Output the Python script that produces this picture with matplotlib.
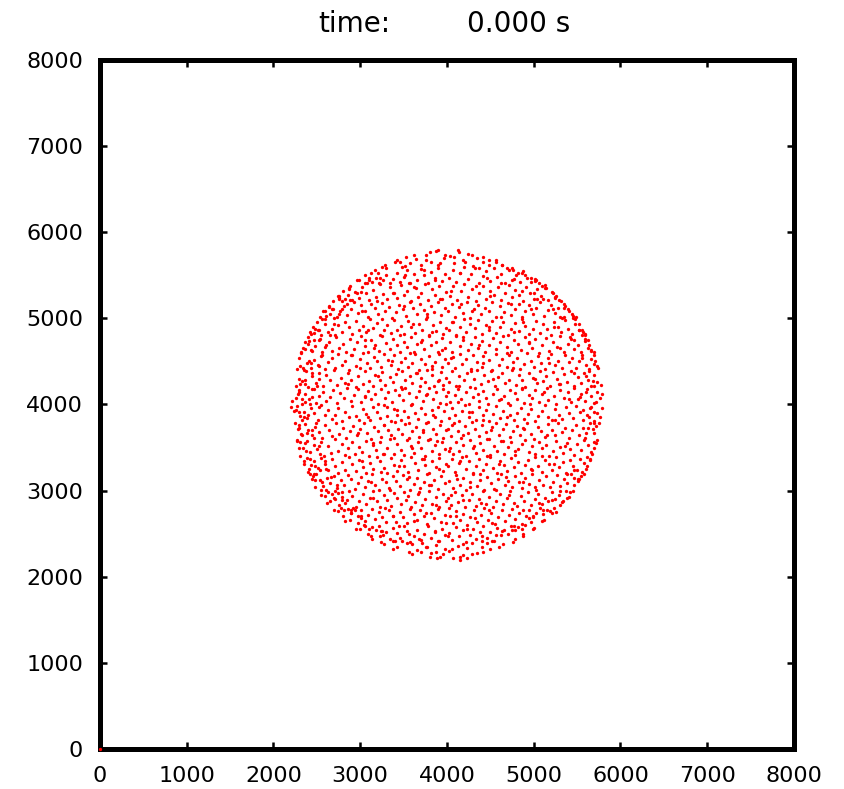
import numpy as np
import matplotlib
matplotlib.use("Agg")
import matplotlib.pyplot as plt

# Particle positions at t = 0, read off the snapshot by quarter of the disc
# (estimated: the dots are too dense to read one by one).
north_east = [
    (4012,4150),(4038,4030),(4095,4110),(4130,4185),(4160,4060),(4225,4140),(4250,4010),(4300,4090),(4318,4195),(4372,4045),
    (4420,4160),(4455,4075),(4470,4005),(4530,4120),(4575,4180),(4598,4050),(4655,4100),(4700,4020),(4722,4170),(4790,4135),
    (4810,4060),(4865,4195),(4890,4015),(4940,4110),(4985,4070),(5020,4165),(5065,4030),(5098,4125),(5150,4190),(5170,4055),
    (5235,4100),(5262,4010),(5300,4170),(5345,4080),(5390,4140),(5425,4025),(5470,4195),(5505,4065),(5540,4120),(5590,4040),
    (5615,4180),(5660,4095),(5700,4015),(5725,4150),(5760,4070),(5785,4120),
    (4025,4260),(4060,4390),(4105,4215),(4140,4330),(4195,4280),(4230,4370),(4262,4205),(4310,4300),(4345,4395),(4388,4240),
    (4430,4340),(4475,4270),(4502,4385),(4550,4220),(4590,4315),(4630,4360),(4668,4250),(4710,4290),(4745,4395),(4795,4225),
    (4830,4345),(4862,4280),(4905,4205),(4950,4370),(4990,4310),(5035,4245),(5070,4390),(5110,4275),(5145,4335),(5190,4210),
    (5225,4380),(5270,4300),(5305,4235),(5350,4350),(5385,4265),(5430,4390),(5460,4215),(5510,4320),(5545,4255),(5580,4370),
    (5625,4290),(5660,4215),(5695,4340),(5730,4260),(5770,4225),
    (4015,4480),(4070,4555),(4090,4420),(4150,4590),(4175,4470),(4220,4530),(4280,4410),(4305,4575),(4350,4495),(4400,4440),
    (4420,4560),(4480,4515),(4515,4405),(4560,4590),(4600,4460),(4640,4525),(4690,4430),(4715,4580),(4760,4490),(4805,4545),
    (4840,4415),(4885,4470),(4925,4595),(4965,4505),(5000,4435),(5050,4560),(5080,4480),(5130,4410),(5160,4535),(5200,4590),
    (5245,4455),(5280,4510),(5325,4420),(5360,4575),(5410,4490),(5440,4545),(5485,4425),(5520,4505),(5560,4580),(5600,4460),
    (5635,4410),(5665,4530),(5700,4470),(5740,4420),
    (4030,4720),(4060,4615),(4110,4790),(4150,4680),(4190,4745),(4240,4630),(4275,4705),(4320,4780),(4355,4650),(4405,4735),
    (4440,4605),(4480,4690),(4530,4770),(4565,4640),(4610,4725),(4650,4795),(4690,4665),(4735,4610),(4770,4750),(4815,4700),
    (4855,4635),(4895,4785),(4940,4710),(4975,4650),(5020,4760),(5060,4600),(5100,4690),(5145,4775),(5180,4625),(5225,4730),
    (5265,4670),(5305,4790),(5350,4610),(5390,4700),(5430,4755),(5470,4640),(5510,4690),(5550,4615),(5590,4740),(5620,4660),
    (5660,4625),(5690,4605),
    (4020,4860),(4065,4955),(4100,4810),(4145,4905),(4195,4995),(4225,4840),(4270,4930),(4320,4885),(4355,4980),(4400,4815),
    (4445,4920),(4490,4860),(4525,4975),(4570,4830),(4615,4900),(4650,4960),(4700,4805),(4740,4875),(4780,4945),(4825,4850),
    (4865,4990),(4905,4910),(4950,4820),(4990,4880),(5030,4970),(5075,4835),(5110,4935),(5155,4875),(5195,4805),(5235,4960),
    (5280,4900),(5320,4840),(5360,4985),(5400,4880),(5440,4820),(5480,4930),(5520,4860),(5555,4810),(5570,4845),(5595,4815),
    (4010,5085),(4055,5170),(4095,5020),(4140,5130),(4185,5060),(4230,5195),(4265,5005),(4310,5110),(4360,5160),(4395,5045),
    (4440,5125),(4485,5080),(4525,5190),(4570,5015),(4610,5140),(4655,5070),(4700,5180),(4735,5035),(4780,5105),(4825,5165),
    (4860,5010),(4905,5090),(4950,5150),(4990,5050),(5030,5120),(5075,5195),(5115,5025),(5160,5100),(5200,5160),(5240,5060),
    (5285,5120),(5325,5005),(5345,5170),(5405,5080),(5450,5030),(5490,5010),
    (4035,5260),(4070,5370),(4120,5215),(4160,5320),(4200,5395),(4245,5250),(4290,5340),(4330,5205),(4375,5290),(4415,5380),
    (4455,5230),(4500,5315),(4540,5270),(4585,5360),(4625,5210),(4665,5300),(4710,5390),(4750,5245),(4790,5330),(4830,5275),
    (4875,5205),(4915,5365),(4955,5295),(5000,5230),(5040,5340),(5085,5260),(5125,5385),(5165,5215),(5205,5310),(5250,5245),
    (5290,5210),
    (4020,5470),(4065,5560),(4105,5420),(4150,5530),(4195,5595),(4240,5455),(4280,5510),(4325,5580),(4370,5410),(4410,5490),
    (4455,5545),(4500,5430),(4540,5590),(4580,5475),(4625,5520),(4670,5405),(4710,5560),(4750,5450),(4795,5500),(4840,5420),
    (4880,5550),(4925,5470),(4970,5420),(5010,5460),(5060,5410),
    (4030,5720),(4080,5640),(4130,5790),(4185,5680),(4240,5750),(4300,5610),(4350,5700),(4420,5650),(4490,5615),(4560,5680),
    (4640,5620),
]

north_west = [
    (3985,4095),(3950,4180),(3915,4020),(3870,4140),(3840,4060),(3795,4195),(3760,4110),(3720,4035),(3680,4160),(3645,4085),
    (3600,4010),(3565,4130),(3520,4190),(3490,4055),(3445,4105),(3405,4170),(3370,4025),(3325,4140),(3290,4075),(3245,4185),
    (3210,4005),(3170,4120),(3130,4060),(3090,4155),(3050,4095),(3005,4030),(2970,4175),(2925,4115),(2890,4045),(2845,4195),
    (2810,4070),(2765,4135),(2730,4015),(2685,4165),(2650,4090),(2605,4040),(2570,4150),(2530,4100),(2490,4020),(2450,4180),
    (2410,4060),(2370,4125),(2330,4010),(2290,4165),(2255,4080),(2220,4045),
    (3990,4310),(3960,4230),(3930,4375),(3905,4280),(3850,4215),(3830,4340),(3775,4395),(3750,4260),(3700,4305),(3690,4220),
    (3640,4370),(3595,4245),(3570,4330),(3515,4285),(3480,4390),(3470,4205),(3410,4350),(3375,4265),(3340,4315),(3290,4230),
    (3255,4380),(3230,4290),(3170,4345),(3150,4210),(3100,4275),(3060,4385),(3030,4240),(2975,4325),(2950,4200),(2900,4290),
    (2860,4370),(2825,4250),(2780,4310),(2735,4225),(2700,4395),(2655,4280),(2610,4340),(2575,4215),(2530,4300),(2490,4250),
    (2445,4360),(2400,4205),(2360,4290),(2310,4240),(2260,4215),
    (3975,4530),(3940,4440),(3905,4585),(3860,4490),(3825,4410),(3790,4560),(3745,4470),(3705,4525),(3680,4405),(3630,4590),
    (3600,4480),(3555,4430),(3520,4545),(3475,4495),(3440,4410),(3395,4575),(3360,4460),(3320,4520),(3275,4590),(3240,4435),
    (3195,4500),(3160,4555),(3115,4420),(3075,4480),(3030,4595),(2995,4525),(2955,4445),(2910,4570),(2875,4405),(2830,4505),
    (2790,4460),(2750,4585),(2710,4420),(2670,4540),(2630,4490),(2590,4410),(2550,4565),(2510,4455),(2470,4520),(2430,4420),
    (2390,4480),(2350,4405),(2310,4445),(2275,4415),
    (3980,4655),(3945,4770),(3900,4610),(3870,4720),(3820,4685),(3790,4795),(3740,4640),(3710,4750),(3660,4700),(3625,4615),
    (3585,4780),(3540,4665),(3505,4730),(3460,4605),(3420,4690),(3380,4760),(3340,4640),(3300,4715),(3255,4790),(3215,4625),
    (3175,4690),(3130,4745),(3090,4610),(3050,4675),(3010,4790),(2965,4720),(2925,4645),(2885,4760),(2840,4605),(2800,4700),
    (2760,4655),(2720,4780),(2680,4620),(2640,4730),(2600,4670),(2560,4610),(2520,4750),(2480,4680),(2440,4625),(2400,4700),
    (2360,4640),(2320,4610),
    (3990,4890),(3950,4815),(3915,4960),(3870,4855),(3835,4925),(3790,4805),(3755,4990),(3710,4870),(3675,4940),(3630,4830),
    (3590,4895),(3550,4975),(3510,4815),(3470,4910),(3430,4860),(3390,4985),(3350,4835),(3310,4920),(3270,4870),(3230,4810),
    (3190,4950),(3150,4890),(3110,4995),(3070,4840),(3030,4915),(2990,4865),(2950,4975),(2910,4820),(2870,4900),(2830,4955),
    (2790,4845),(2750,4920),(2710,4810),(2670,4880),(2630,4840),(2590,4935),(2550,4805),(2510,4870),(2470,4825),(2430,4815),
    (3975,5120),(3935,5040),(3895,5185),(3855,5075),(3815,5140),(3775,5010),(3735,5095),(3695,5170),(3650,5055),(3610,5125),
    (3570,5190),(3530,5030),(3490,5105),(3450,5160),(3410,5070),(3370,5005),(3330,5135),(3290,5090),(3250,5180),(3210,5045),
    (3170,5115),(3130,5165),(3090,5020),(3050,5085),(3010,5150),(2970,5060),(2930,5195),(2890,5110),(2850,5035),(2810,5140),
    (2770,5080),(2730,5015),(2690,5110),(2650,5055),(2610,5025),(2570,5090),
    (3985,5310),(3945,5230),(3905,5370),(3865,5270),(3825,5340),(3785,5215),(3745,5395),(3705,5290),(3665,5250),(3625,5360),
    (3585,5205),(3545,5320),(3505,5275),(3465,5385),(3425,5235),(3385,5300),(3345,5360),(3305,5220),(3265,5280),(3225,5395),
    (3185,5250),(3145,5330),(3105,5210),(3065,5290),(3025,5360),(2985,5240),(2945,5310),(2905,5215),(2865,5270),(2825,5225),
    (2785,5205),(2760,5260),
    (3980,5520),(3940,5430),(3900,5585),(3860,5470),(3820,5540),(3780,5410),(3740,5500),(3700,5575),(3660,5445),(3620,5515),
    (3580,5410),(3540,5560),(3500,5480),(3460,5425),(3420,5530),(3380,5460),(3340,5410),(3300,5500),(3260,5440),(3220,5405),
    (3180,5470),(3140,5420),(3100,5445),(3060,5410),(3480,5595),
    (3970,5700),(3920,5640),(3870,5780),(3815,5660),(3760,5730),(3700,5620),(3640,5690),(3580,5640),(3520,5610),(3460,5650),
    (3900,5790),
]

south_west = [
    (3970,3920),(3935,3810),(3900,3975),(3860,3860),(3825,3935),(3780,3800),(3750,3890),(3705,3960),(3665,3835),(3630,3905),
    (3590,3990),(3550,3850),(3510,3925),(3470,3815),(3430,3880),(3390,3950),(3350,3805),(3310,3870),(3270,3995),(3230,3840),
    (3190,3910),(3150,3970),(3110,3825),(3070,3895),(3030,3945),(2990,3815),(2950,3870),(2910,3985),(2870,3850),(2830,3915),
    (2790,3805),(2750,3960),(2710,3880),(2670,3830),(2630,3935),(2590,3875),(2550,3995),(2510,3820),(2470,3900),(2430,3960),
    (2390,3845),(2350,3915),(2310,3870),(2270,3985),(2235,3920),(2205,3965),
    (3990,3700),(3950,3615),(3920,3760),(3875,3655),(3840,3720),(3800,3605),(3760,3785),(3720,3680),(3680,3625),(3640,3740),
    (3600,3690),(3560,3610),(3520,3770),(3480,3655),(3440,3715),(3400,3795),(3360,3640),(3320,3700),(3280,3760),(3240,3620),
    (3200,3690),(3160,3735),(3120,3605),(3080,3665),(3040,3780),(3000,3710),(2960,3640),(2920,3750),(2880,3690),(2840,3615),
    (2800,3725),(2760,3660),(2720,3790),(2680,3630),(2640,3705),(2600,3765),(2560,3610),(2520,3680),(2480,3740),(2440,3640),
    (2400,3700),(2360,3770),(2320,3655),(2285,3720),(2250,3780),
    (3975,3480),(3940,3570),(3905,3420),(3865,3525),(3825,3455),(3785,3590),(3745,3405),(3705,3500),(3665,3560),(3625,3440),
    (3585,3515),(3545,3585),(3505,3410),(3465,3475),(3425,3545),(3385,3430),(3345,3600),(3305,3495),(3265,3420),(3225,3565),
    (3185,3470),(3145,3530),(3105,3405),(3065,3580),(3025,3450),(2985,3510),(2945,3425),(2905,3570),(2865,3490),(2825,3415),
    (2785,3545),(2745,3465),(2705,3595),(2665,3440),(2625,3520),(2585,3405),(2545,3560),(2505,3480),(2465,3530),(2425,3445),
    (2385,3575),(2345,3500),(2310,3560),(2275,3590),
    (3985,3310),(3950,3225),(3910,3380),(3870,3270),(3830,3340),(3790,3205),(3750,3295),(3710,3365),(3670,3240),(3630,3320),
    (3590,3395),(3550,3215),(3510,3285),(3470,3350),(3430,3230),(3390,3300),(3350,3375),(3310,3210),(3270,3265),(3230,3340),
    (3190,3390),(3150,3250),(3110,3320),(3070,3200),(3030,3275),(2990,3360),(2950,3225),(2910,3310),(2870,3385),(2830,3245),
    (2790,3330),(2750,3205),(2710,3290),(2670,3365),(2630,3235),(2590,3310),(2550,3380),(2510,3260),(2470,3340),(2430,3300),
    (2390,3375),(2350,3345),
    (3975,3090),(3935,3170),(3895,3020),(3855,3125),(3815,3060),(3775,3190),(3735,3105),(3695,3035),(3655,3150),(3615,3080),
    (3575,3005),(3535,3130),(3495,3185),(3455,3050),(3415,3115),(3375,3165),(3335,3025),(3295,3095),(3255,3140),(3215,3010),
    (3175,3070),(3135,3195),(3095,3110),(3055,3040),(3015,3160),(2975,3085),(2935,3015),(2895,3130),(2855,3180),(2815,3065),
    (2775,3120),(2735,3030),(2695,3175),(2655,3090),(2615,3150),(2575,3055),(2535,3125),(2495,3190),(2455,3165),(2420,3195),
    (3990,2880),(3950,2960),(3910,2815),(3870,2925),(3830,2850),(3790,2990),(3750,2900),(3710,2830),(3670,2955),(3630,2870),
    (3590,2805),(3550,2935),(3510,2985),(3470,2845),(3430,2910),(3390,2970),(3350,2820),(3310,2890),(3270,2945),(3230,2810),
    (3190,2875),(3150,2995),(3110,2920),(3070,2840),(3030,2965),(2990,2885),(2950,2810),(2910,2935),(2870,2990),(2830,2860),
    (2790,2925),(2750,2970),(2710,2900),(2670,2955),(2630,2985),(2590,2940),
    (3975,2720),(3935,2640),(3895,2785),(3855,2680),(3815,2745),(3775,2610),(3735,2700),(3695,2770),(3655,2655),(3615,2725),
    (3575,2790),(3535,2620),(3495,2690),(3455,2755),(3415,2640),(3375,2710),(3335,2780),(3295,2630),(3255,2695),(3215,2750),
    (3175,2665),(3135,2790),(3095,2720),(3055,2650),(3015,2770),(2975,2705),(2935,2780),(2895,2745),(2855,2790),(2815,2770),
    (2775,2795),(3045,2605),
    (3980,2480),(3940,2560),(3900,2415),(3860,2525),(3820,2450),(3780,2590),(3740,2500),(3700,2430),(3660,2545),(3620,2470),
    (3580,2405),(3540,2530),(3500,2585),(3460,2455),(3420,2510),(3380,2570),(3340,2440),(3300,2525),(3260,2485),(3220,2590),
    (3180,2540),(3140,2575),(3100,2560),(3400,2410),(3480,2420),
    (3975,2320),(3925,2230),(3870,2370),(3820,2280),(3765,2345),(3710,2390),(3655,2310),(3600,2375),(3545,2395),(3880,2215),
    (3700,2290),
]

south_east = [
    (4020,3840),(4055,3955),(4090,3880),(4135,3805),(4170,3925),(4210,3990),(4250,3850),(4290,3910),(4330,3820),(4370,3965),
    (4410,3875),(4450,3935),(4490,3810),(4530,3895),(4570,3980),(4610,3845),(4650,3920),(4690,3860),(4730,3995),(4770,3815),
    (4810,3905),(4850,3960),(4890,3835),(4930,3885),(4970,3950),(5010,3805),(5050,3870),(5090,3930),(5130,3990),(5170,3855),
    (5210,3815),(5250,3945),(5290,3880),(5330,3830),(5370,3970),(5410,3900),(5450,3845),(5490,3985),(5530,3915),(5570,3825),
    (5610,3880),(5650,3955),(5690,3810),(5725,3900),(5760,3850),(5790,3960),
    (4010,3720),(4045,3635),(4085,3780),(4125,3690),(4165,3615),(4205,3745),(4245,3665),(4285,3795),(4325,3710),(4365,3630),
    (4405,3760),(4445,3685),(4485,3605),(4525,3735),(4565,3790),(4605,3650),(4645,3715),(4685,3770),(4725,3620),(4765,3695),
    (4805,3750),(4845,3640),(4885,3720),(4925,3785),(4965,3660),(5005,3605),(5045,3740),(5085,3690),(5125,3625),(5165,3770),
    (5205,3705),(5245,3645),(5285,3790),(5325,3675),(5365,3730),(5405,3610),(5445,3700),(5485,3760),(5525,3640),(5565,3725),
    (5605,3670),(5645,3780),(5685,3710),(5720,3745),(5755,3785),
    (4030,3500),(4065,3420),(4100,3565),(4140,3465),(4180,3535),(4220,3405),(4260,3590),(4300,3490),(4340,3440),(4380,3550),
    (4420,3475),(4460,3595),(4500,3415),(4540,3520),(4580,3460),(4620,3575),(4660,3430),(4700,3505),(4740,3560),(4780,3410),
    (4820,3480),(4860,3545),(4900,3590),(4940,3445),(4980,3515),(5020,3420),(5060,3570),(5100,3490),(5140,3535),(5180,3405),
    (5220,3460),(5260,3580),(5300,3510),(5340,3440),(5380,3555),(5420,3485),(5460,3415),(5500,3540),(5540,3470),(5580,3590),
    (5620,3525),(5660,3450),(5700,3560),(5735,3585),
    (4015,3290),(4055,3365),(4095,3215),(4135,3320),(4175,3395),(4215,3255),(4255,3340),(4295,3205),(4335,3280),(4375,3370),
    (4415,3235),(4455,3310),(4495,3390),(4535,3260),(4575,3200),(4615,3345),(4655,3295),(4695,3225),(4735,3380),(4775,3270),
    (4815,3330),(4855,3210),(4895,3300),(4935,3360),(4975,3245),(5015,3395),(5055,3285),(5095,3220),(5135,3350),(5175,3305),
    (5215,3240),(5255,3385),(5295,3275),(5335,3330),(5375,3210),(5415,3355),(5455,3290),(5495,3240),(5535,3370),(5575,3320),
    (5615,3385),(5650,3350),
    (4025,3110),(4065,3035),(4105,3180),(4145,3070),(4185,3145),(4225,3010),(4265,3095),(4305,3190),(4345,3050),(4385,3125),
    (4425,3005),(4465,3160),(4505,3085),(4545,3020),(4585,3140),(4625,3195),(4665,3060),(4705,3115),(4745,3040),(4785,3175),
    (4825,3100),(4865,3030),(4905,3150),(4945,3075),(4985,3190),(5025,3010),(5065,3120),(5105,3065),(5145,3165),(5185,3040),
    (5225,3105),(5265,3180),(5305,3055),(5345,3135),(5385,3090),(5425,3195),(5465,3150),(5505,3110),(5545,3170),(5580,3190),
    (4010,2915),(4050,2835),(4090,2980),(4130,2870),(4170,2945),(4210,2805),(4250,2890),(4290,2960),(4330,2825),(4370,2905),
    (4410,2990),(4450,2850),(4490,2930),(4530,2810),(4570,2885),(4610,2965),(4650,2840),(4690,2910),(4730,2995),(4770,2860),
    (4810,2820),(4850,2940),(4890,2875),(4930,2985),(4970,2830),(5010,2900),(5050,2960),(5090,2845),(5130,2920),(5170,2880),
    (5210,2985),(5250,2905),(5290,2950),(5330,2870),(5370,2990),(5410,2930),
    (4030,2700),(4070,2620),(4110,2765),(4150,2655),(4190,2730),(4230,2605),(4270,2690),(4310,2780),(4350,2640),(4390,2715),
    (4430,2795),(4470,2660),(4510,2735),(4550,2610),(4590,2690),(4630,2770),(4670,2645),(4710,2720),(4750,2790),(4790,2665),
    (4830,2740),(4870,2615),(4910,2700),(4950,2775),(4990,2690),(5030,2745),(5070,2795),(5110,2725),(5150,2775),(5190,2760),
    (5230,2795),(4970,2630),
    (4020,2510),(4060,2425),(4100,2575),(4140,2470),(4180,2540),(4220,2405),(4260,2490),(4300,2560),(4340,2440),(4380,2525),
    (4420,2590),(4460,2455),(4500,2515),(4540,2420),(4580,2570),(4620,2480),(4660,2545),(4700,2500),(4740,2590),(4780,2540),
    (4820,2580),(4860,2560),(4900,2595),(4560,2490),(4400,2410),
    (4025,2300),(4075,2215),(4125,2360),(4180,2255),(4235,2330),(4290,2390),(4345,2280),(4400,2350),(4460,2390),(4230,2220),
    (4150,2190),
]

# dots along the diagonal parts of the rim
rim = [
    (5590,4755),(5520,4870),(5450,5000),(5350,5120),(5250,5235),(5125,5350),(5015,5435),(4870,5530),(4750,5590),
    (5470,4750),(5300,5010),(5220,5105),(5110,5225),(5000,5300),(4770,5455),
    (2415,4740),(2475,4880),(2560,4995),(2645,5130),(2755,5240),(2870,5345),(2990,5440),(3125,5525),(3255,5595),
    (2540,4760),(2695,5000),(2790,5110),(2885,5215),(3010,5310),(3225,5465),
    (2405,3250),(2485,3125),(2545,3005),(2655,2875),(2745,2760),(2880,2655),(2995,2560),(3120,2475),(3245,2405),
    (2535,3240),(2705,2995),(2785,2890),(2890,2780),(3005,2700),(3240,2535),
    (5600,3255),(5515,3130),(5455,2995),(5340,2880),(5255,2750),(5120,2660),(5005,2565),(4875,2470),(4760,2400),
    (5460,3245),(5305,2990),(5210,2895),(5105,2780),(4990,2705),(4755,2540),
]

# the looser dots in between, read bottom to top
infill = [
    (3800,2230),(4150,2230),(3600,2260),(3960,2260),(4290,2260),(3560,2290),(3870,2290),(4410,2290),
    (3380,2320),(4060,2320),(4500,2320),(3430,2350),(3760,2350),(4600,2350),(3270,2380),(4180,2380),(4650,2380),
    (3380,2410),(3910,2410),(4520,2410),(3140,2440),(3680,2440),(4790,2440),(3230,2470),(4010,2470),(4400,2470),
    (3090,2500),(3560,2500),(4880,2500),(3250,2530),(3860,2530),(4630,2530),(2950,2560),(4230,2560),(4990,2560),
    (3060,2590),(3450,2590),(4770,2590),(2970,2620),(3990,2620),(4520,2620),(2830,2650),(3620,2650),(5090,2650),
    (3010,2680),(4320,2680),(4940,2680),(2800,2710),(3380,2710),(4110,2710),(2890,2740),(3760,2740),(5210,2740),
    (2700,2770),(4480,2770),(4880,2770),(2920,2800),(3290,2800),(4020,2800),(2760,2830),(3870,2830),(5300,2830),
    (2620,2860),(4390,2860),(5060,2860),(2850,2890),(3530,2890),(4190,2890),(2700,2920),(3150,2920),(5380,2920),
    (2550,2950),(4050,2950),(4720,2950),(2790,2980),(3680,2980),(5420,2980),(2610,3010),(3340,3010),(4560,3010),
    (2480,3040),(4260,3040),(5020,3040),(2730,3070),(3790,3070),(5470,3070),(2560,3100),(3130,3100),(4880,3100),
    (2440,3130),(4120,3130),(5520,3130),(2660,3160),(3560,3160),(4680,3160),(2470,3190),(4380,3190),(5380,3190),
    (2400,3220),(3240,3220),(5560,3220),(2610,3250),(3910,3250),(4970,3250),(2480,3280),(3450,3280),(5610,3280),
    (2350,3310),(4600,3310),(5230,3310),(2590,3340),(3020,3340),(4150,3340),(2420,3370),(3740,3370),(5650,3370),
    (2310,3400),(4460,3400),(5090,3400),(2540,3430),(3280,3430),(5670,3430),(2380,3460),(4020,3460),(4790,3460),
    (2290,3490),(3600,3490),(5700,3490),(2520,3520),(4310,3520),(5360,3520),(2360,3550),(3150,3550),(5720,3550),
    (2270,3580),(3880,3580),(4650,3580),(2470,3610),(3390,3610),(5590,3610),(2330,3640),(4190,3640),(5150,3640),
    (2390,3670),(2980,3670),(5700,3670),(2450,3700),(3720,3700),(4510,3700),(2300,3730),(4880,3730),(5620,3730),
    (2300,3760),(3270,3760),(4060,3760),(2490,3790),(3560,3790),(5690,3790),(2330,3820),(4420,3820),(5250,3820),
    (2350,3850),(3090,3850),(5640,3850),(2400,3880),(3840,3880),(4730,3880),(2290,3910),(4250,3910),(5700,3910),
    (2260,3940),(3430,3940),(5570,3940),(2520,3970),(3310,3970),(5660,3970),(2420,4000),(3990,4000),(4960,4000),
    (2360,4030),(4130,4030),(5720,4030),(2330,4060),(4620,4060),(5410,4060),(2450,4090),(3050,4090),(5530,4090),
    (2280,4120),(3770,4120),(4360,4120),(2300,4150),(5120,4150),(5600,4150),(2470,4180),(3480,4180),(4870,4180),
    (2500,4210),(4140,4210),(5690,4210),(2370,4240),(2860,4240),(5290,4240),(2330,4270),(3900,4270),(5680,4270),
    (2300,4300),(4530,4300),(5020,4300),(2440,4330),(3210,4330),(5600,4330),(2520,4360),(3650,4360),(5460,4360),
    (2380,4390),(4280,4390),(5640,4390),(2340,4420),(3000,4420),(4760,4420),(2520,4450),(3830,4450),(5730,4450),
    (2430,4480),(4420,4480),(5180,4480),(2410,4510),(3370,4510),(5710,4510),(2300,4540),(4050,4540),(5560,4540),
    (2560,4570),(2890,4570),(5690,4570),(2320,4600),(3570,4600),(4690,4600),(2430,4630),(3940,4630),(5660,4630),
    (2340,4660),(3160,4660),(5300,4660),(2610,4690),(4370,4690),(5640,4690),(2370,4720),(3700,4720),(4950,4720),
    (2470,4750),(3050,4750),(5620,4750),(2400,4780),(4180,4780),(5420,4780),(2650,4810),(3460,4810),(5590,4810),
    (2420,4840),(3830,4840),(4770,4840),(2530,4870),(3090,4870),(5560,4870),(2460,4900),(4490,4900),(5230,4900),
    (2700,4930),(3610,4930),(5520,4930),(2500,4960),(4060,4960),(4880,4960),(2600,4990),(3250,4990),(5480,4990),
    (2540,5020),(4620,5020),(5350,5020),(2760,5050),(3770,5050),(5440,5050),(2590,5080),(3020,5080),(4290,5080),
    (2680,5110),(4970,5110),(5400,5110),(2640,5140),(3510,5140),(5360,5140),(2850,5170),(4160,5170),(4740,5170),
    (2690,5200),(3190,5200),(5310,5200),(2760,5230),(3920,5230),(5040,5230),(2740,5260),(4500,5260),(5260,5260),
    (2960,5290),(3380,5290),(5220,5290),(2800,5320),(4050,5320),(4870,5320),(2870,5350),(3640,5350),(5140,5350),
    (2880,5380),(4330,5380),(5100,5380),(3080,5410),(3560,5410),(4620,5410),(2960,5440),(3860,5440),(5030,5440),
    (3100,5470),(4460,5470),(4970,5470),(3060,5500),(3520,5500),(4900,5500),(3200,5530),(4150,5530),(4820,5530),
    (3170,5560),(3730,5560),(4760,5560),(3300,5590),(4370,5590),(4690,5590),(3290,5620),(3900,5620),(4640,5620),
    (3400,5650),(4210,5650),(4560,5650),(3420,5680),(3760,5680),(4490,5680),(3530,5710),(4080,5710),(4410,5710),
    (3620,5740),(3980,5740),(4290,5740),(3800,5770),(4140,5770),
]

# one particle sitting at the origin
stray = [(0, 0)]

ticks = [0, 1000, 2000, 3000, 4000, 5000, 6000, 7000, 8000]
time_label = "time:"
time_value = "0.000 s"

plt.rcParams['font.family'] = ['DejaVu Sans']

fig = plt.figure(figsize=(8.44, 7.89), dpi=100)
ax = fig.add_axes([0.1183, 0.0507, 0.8225, 0.8733])

pts = np.array(north_east + north_west + south_west + south_east + rim + infill + stray)
ax.plot(pts[:, 0], pts[:, 1], 'o', color='#ff0000', markersize=2.4,
        markeredgewidth=0, clip_on=False, zorder=3)

ax.set_xlim(0, 8000)
ax.set_ylim(0, 8000)
ax.set_xticks(ticks)
ax.set_yticks(ticks)

for side in ['left', 'right', 'top', 'bottom']:
    ax.spines[side].set_linewidth(3.6)
ax.tick_params(direction='in', length=5, width=1.8, top=True, right=True,
               labelsize=16, pad=12)

fig.text(318 / 844, 1 - 32 / 789, time_label, fontsize=20, va='baseline', ha='left')
fig.text(467 / 844, 1 - 32 / 789, time_value, fontsize=20, va='baseline', ha='left')

fig.savefig("out.png", dpi=100)
